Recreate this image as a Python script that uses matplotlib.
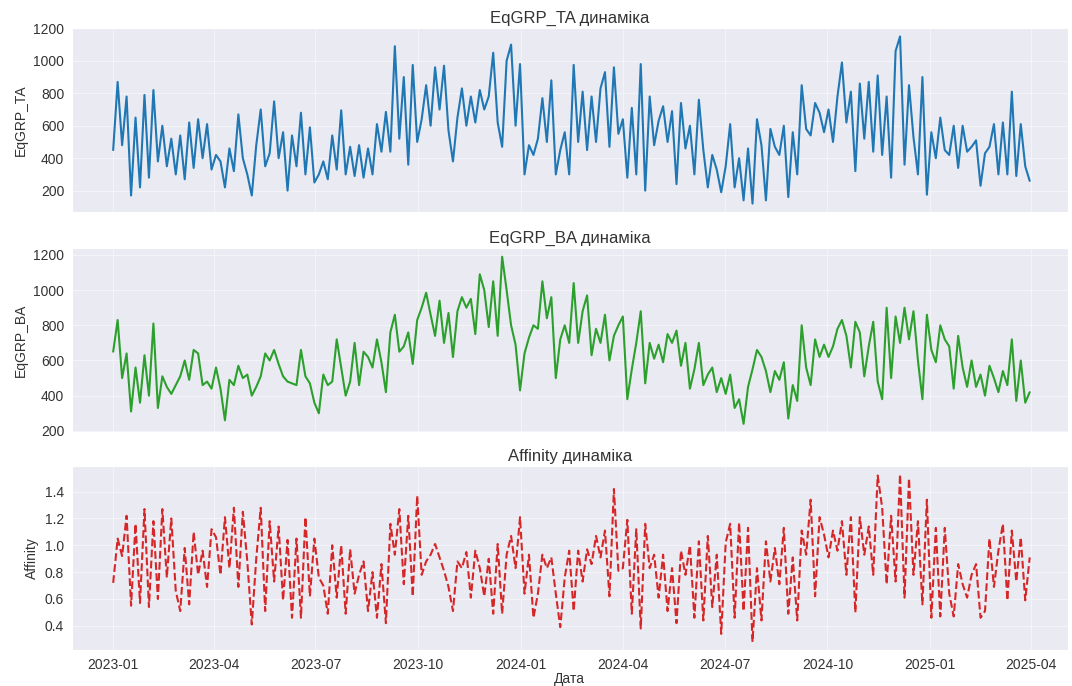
import pandas as pd
import matplotlib
matplotlib.use("Agg")
import matplotlib.pyplot as plt
import matplotlib.dates as mdates
import matplotlib.ticker as mticker
import seaborn as sns

# Values, one sample every 4 days from 2023-01-01
start_date = "2023-01-01"
step = "4D"

eqgrp_ta = [
    # 2023 Q1
    450, 870, 480, 780, 170, 650, 220, 790, 280, 820, 380, 600, 350, 520, 300, 540, 270, 620, 340, 640, 400, 610, 330,
    # 2023 Q2
    420, 380, 220, 460, 320, 670, 400, 300, 170, 480, 700, 350, 430, 750, 400, 560, 200, 540, 350, 680, 300, 590, 250,
    # 2023 Q3
    300, 380, 270, 540, 330, 695, 300, 470, 290, 480, 280, 460, 300, 610, 440, 685, 440, 1090, 520, 900, 360, 975, 500,
    # 2023 Q4
    640, 850, 600, 960, 700, 970, 570, 380, 650, 830, 600, 780, 620, 820, 700, 780, 1050, 620, 470, 1000, 1100, 600, 980,
    # 2024 Q1
    300, 480, 420, 520, 770, 500, 880, 300, 450, 560, 300, 975, 500, 810, 450, 780, 500, 830, 930, 470, 960, 550, 640,
    # 2024 Q2
    280, 710, 300, 980, 200, 780, 480, 630, 720, 500, 690, 240, 740, 460, 600, 300, 760, 450, 220, 420, 330, 190, 350,
    # 2024 Q3
    610, 220, 400, 140, 460, 120, 640, 480, 140, 580, 470, 420, 600, 160, 560, 300, 850, 580, 540, 740, 680, 560,
    # 2024 Q4
    700, 500, 780, 990, 620, 810, 320, 860, 520, 870, 440, 910, 420, 780, 280, 1060, 1150, 360, 850, 530, 300, 900, 175,
    # 2025 Q1
    560, 400, 650, 450, 420, 600, 340, 600, 440, 470, 510, 230, 430, 470, 610, 300, 620, 300, 810, 290, 610, 350, 260,
]

eqgrp_ba = [
    # 2023 Q1
    650, 830, 500, 640, 310, 560, 360, 630, 400, 810, 330, 510, 450, 410, 460, 510, 600, 490, 660, 640, 460, 480, 440,
    # 2023 Q2
    560, 440, 260, 490, 460, 570, 500, 520, 400, 450, 510, 640, 600, 660, 580, 510, 480, 470, 460, 660, 510, 470, 360,
    # 2023 Q3
    300, 520, 460, 480, 720, 560, 400, 480, 700, 460, 650, 620, 560, 720, 590, 420, 760, 860, 650, 680, 760, 580, 830,
    # 2023 Q4
    900, 985, 860, 740, 940, 700, 870, 620, 880, 960, 900, 950, 750, 1090, 1000, 790, 1050, 740, 1190, 1000, 800, 690, 430,
    # 2024 Q1
    640, 730, 800, 780, 1050, 840, 960, 500, 720, 800, 700, 1040, 700, 880, 970, 630, 780, 700, 860, 600, 740, 800, 850,
    # 2024 Q2
    380, 550, 700, 880, 470, 700, 610, 690, 590, 750, 700, 770, 570, 700, 440, 550, 700, 460, 520, 560, 420, 500, 410,
    # 2024 Q3
    520, 330, 380, 240, 450, 550, 660, 620, 540, 420, 540, 490, 590, 270, 460, 370, 800, 560, 460, 720, 620, 690,
    # 2024 Q4
    620, 680, 780, 830, 740, 560, 820, 760, 510, 680, 820, 480, 380, 900, 500, 850, 700, 900, 720, 880, 600, 380, 860,
    # 2025 Q1
    660, 590, 800, 720, 680, 440, 740, 560, 450, 600, 450, 520, 400, 570, 500, 420, 540, 460, 720, 370, 600, 360, 420,
]

affinity = [
    # 2023 Q1
    0.72, 1.05, 0.92, 1.22, 0.55, 1.16, 0.57, 1.27, 0.54, 1.18, 0.60, 1.27, 0.76, 1.20, 0.66, 0.51, 0.98, 0.56, 1.10, 0.78, 0.96, 0.69, 1.12,
    # 2023 Q2
    1.06, 0.78, 1.21, 0.83, 1.28, 0.69, 1.25, 0.88, 0.41, 0.90, 1.28, 0.51, 1.18, 0.73, 1.14, 0.59, 1.04, 0.46, 1.05, 0.46, 1.21, 0.62, 1.05,
    # 2023 Q3
    0.76, 0.70, 0.49, 1.00, 0.61, 1.00, 0.49, 0.97, 0.64, 0.78, 0.88, 0.51, 0.80, 0.46, 0.86, 0.42, 1.16, 0.93, 1.27, 0.71, 1.22, 0.62, 1.37,
    # 2023 Q4
    0.78, 0.88, 0.93, 1.01, 0.91, 0.81, 0.69, 0.51, 0.88, 0.83, 0.95, 0.61, 0.96, 0.83, 0.62, 0.90, 0.49, 1.01, 0.49, 0.93, 1.07, 0.83, 1.21,
    # 2024 Q1
    0.64, 0.93, 0.46, 0.64, 0.93, 0.83, 0.91, 0.64, 0.39, 0.76, 0.96, 0.51, 0.96, 0.73, 0.97, 0.86, 1.07, 0.91, 1.11, 0.62, 1.42, 0.81, 0.83,
    # 2024 Q2
    1.19, 0.49, 1.12, 0.38, 1.16, 0.83, 0.93, 0.61, 0.93, 0.51, 0.83, 0.42, 0.96, 0.78, 1.00, 0.46, 1.03, 0.44, 1.07, 0.54, 0.93, 0.34, 1.02,
    # 2024 Q3
    1.16, 0.46, 1.17, 0.51, 1.13, 0.28, 0.83, 0.44, 1.03, 0.73, 0.98, 0.71, 1.13, 0.49, 0.91, 0.44, 1.11, 0.93, 1.34, 0.62, 1.21, 1.08,
    # 2024 Q4
    0.91, 1.11, 0.96, 1.18, 0.78, 1.21, 0.50, 1.21, 0.93, 1.14, 0.78, 1.52, 1.28, 0.71, 1.22, 0.73, 1.53, 0.61, 1.50, 0.78, 1.18, 0.56, 1.34,
    # 2025 Q1
    0.46, 1.13, 0.47, 1.13, 0.64, 0.47, 0.86, 0.71, 0.61, 0.78, 0.86, 0.46, 0.51, 1.05, 0.69, 0.96, 1.16, 0.59, 1.11, 0.73, 1.06, 0.59, 0.91,
]

panels = [
    ("EqGRP_TA", eqgrp_ta, "#1f77b4", "-", 200),
    ("EqGRP_BA", eqgrp_ba, "#2ca02c", "-", 200),
    ("Affinity", affinity, "#d62728", "--", 0.2),
]


def main():
    sns.set_style("darkgrid", {"grid.color": "#f4f4f8"})
    plt.rcParams['font.family'] = ['Liberation Sans', 'DejaVu Sans']

    fig = plt.figure(figsize=(10.72, 6.86), dpi=100)
    left, width = 0.067, 0.929
    bottoms = [0.691, 0.370, 0.0525]
    height = 0.268

    axes = []
    for i, (name, values, color, style, ystep) in enumerate(panels):
        ax = fig.add_axes([left, bottoms[i], width, height],
                          sharex=axes[0] if axes else None)
        dates = pd.date_range(start_date, periods=len(values), freq=step)
        ax.plot(dates, values, color=color, linestyle=style, linewidth=1.5)
        ax.yaxis.set_major_locator(mticker.MultipleLocator(ystep))
        if ystep < 1:
            ax.yaxis.set_major_formatter(mticker.FormatStrFormatter('%.1f'))
        ax.set_title(f"{name} динаміка", fontsize=12, color='#333333', pad=4)
        ax.set_ylabel(name, fontsize=10, color='#333333')
        ax.tick_params(axis='both', labelsize=10, colors='#333333', pad=2)
        axes.append(ax)

    axes[2].set_ylim(0.22, 1.59)

    for ax in axes[:-1]:
        ax.tick_params(labelbottom=False)

    axes[-1].xaxis.set_major_locator(mdates.MonthLocator(bymonth=[1, 4, 7, 10]))
    axes[-1].xaxis.set_major_formatter(mdates.DateFormatter('%Y-%m'))
    axes[-1].set_xlim(pd.Timestamp("2022-11-25"), pd.Timestamp("2025-05-04"))
    axes[-1].set_xlabel("Дата", fontsize=10, color='#333333', labelpad=0)

    fig.savefig('out.png', dpi=100)


if __name__ == "__main__":
    main()
